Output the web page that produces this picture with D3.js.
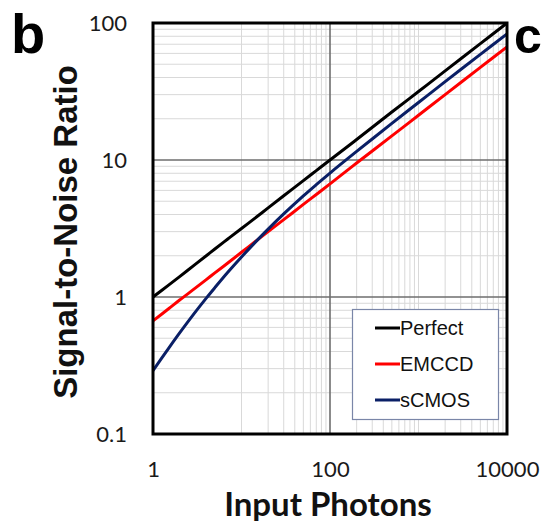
<!DOCTYPE html>
<html><head><meta charset="utf-8">
<script src="https://cdn.jsdelivr.net/npm/d3@7"></script>
<style>html,body{margin:0;padding:0;background:#fff;}svg{display:block;}</style>
</head><body>
<script>
// ---- data ----
const photons = [1, 1.5, 2, 3, 4, 5, 7, 10, 15, 20, 30, 50, 70, 100, 200, 500, 1000, 2000, 5000, 10000];
const perfect = [1, 1.22, 1.41, 1.73, 2, 2.24, 2.65, 3.16, 3.87, 4.47, 5.48, 7.07, 8.37, 10, 14.1, 22.4, 31.6, 44.7, 70.7, 100];
const emccd   = [0.67, 0.82, 0.95, 1.16, 1.34, 1.5, 1.77, 2.12, 2.6, 3.0, 3.67, 4.74, 5.6, 6.7, 9.5, 15.0, 21.2, 30.0, 47.4, 67];
const scmos   = [0.290, 0.422, 0.547, 0.776, 0.982, 1.17, 1.515, 1.96, 2.59, 3.13, 4.04, 5.47, 6.61, 8.03, 11.55, 18.5, 26.3, 37.3, 59.0, 83.3];
const seriesNames = ["Perfect", "EMCCD", "sCMOS"];
const seriesColors = ["#000000", "#ff0000", "#0a1f66"];
const xTicks = [1, 100, 10000];
const yTicks = [0.1, 1, 10, 100];
const xMajorGrid = [100];
const yMajorGrid = [1, 10];

const W = 542, H = 522;
const svg = d3.select("body").append("svg").attr("width", W).attr("height", H);

const x = d3.scaleLog().domain([1, 10000]).range([153, 507]);
const y = d3.scaleLog().domain([0.1, 100]).range([434, 23]);

// minor grid
const xMinor = [];
for (let k = 1; k <= 3; k++) for (let m = 1; m <= 9; m++) { const v = m * Math.pow(10, k); if (v < 10000 && !xMajorGrid.includes(v)) xMinor.push(v); }
const yMinor = [];
for (let k = -1; k <= 1; k++) for (let m = 2; m <= 9; m++) yMinor.push(m * Math.pow(10, k));

const g = svg.append("g");
g.selectAll("line.xm").data(xMinor).join("line")
  .attr("x1", d => x(d)).attr("x2", d => x(d)).attr("y1", y(100)).attr("y2", y(0.1))
  .attr("stroke", "#d9d9d9").attr("stroke-width", 1);
g.selectAll("line.ym").data(yMinor).join("line")
  .attr("y1", d => y(d)).attr("y2", d => y(d)).attr("x1", x(1)).attr("x2", x(10000))
  .attr("stroke", "#d9d9d9").attr("stroke-width", 1);
g.selectAll("line.xM").data(xMajorGrid).join("line")
  .attr("x1", d => x(d)).attr("x2", d => x(d)).attr("y1", y(100)).attr("y2", y(0.1))
  .attr("stroke", "#6e6e6e").attr("stroke-width", 1.6);
g.selectAll("line.yM").data(yMajorGrid).join("line")
  .attr("y1", d => y(d)).attr("y2", d => y(d)).attr("x1", x(1)).attr("x2", x(10000))
  .attr("stroke", "#6e6e6e").attr("stroke-width", 1.6);

// series
const allSeries = [perfect, emccd, scmos];
const line = d3.line().x(d => x(d[0])).y(d => y(d[1])).curve(d3.curveCatmullRom.alpha(0.5));
svg.append("clipPath").attr("id", "clp").append("rect")
  .attr("x", x(1)).attr("y", y(100)).attr("width", x(10000) - x(1)).attr("height", y(0.1) - y(100));
svg.append("g").attr("clip-path", "url(#clp)").selectAll("path").data(allSeries).join("path")
  .attr("d", s => line(photons.map((p, i) => [p, s[i]])))
  .attr("fill", "none").attr("stroke", (d, i) => seriesColors[i]).attr("stroke-width", 3);

// frame
svg.append("rect").attr("x", x(1)).attr("y", y(100)).attr("width", x(10000) - x(1)).attr("height", y(0.1) - y(100))
  .attr("fill", "none").attr("stroke", "#000").attr("stroke-width", 3);

// axes (labels only)
const xAxis = d3.axisBottom(x).tickValues(xTicks).tickFormat(d3.format("d")).tickSize(0).tickPadding(0);
const xa = svg.append("g").attr("transform", `translate(0,${y(0.1)})`).call(xAxis);
xa.select(".domain").remove();
xa.selectAll("text").attr("font-family", "Lato, sans-serif").attr("font-size", 22).attr("fill", "#1a1a1a")
  .attr("dy", null).attr("y", 43);

const yAxis = d3.axisLeft(y).tickValues(yTicks).tickFormat(d => d < 1 ? "0.1" : d3.format("d")(d)).tickSize(0).tickPadding(26);
const ya = svg.append("g").attr("transform", `translate(${x(1)},0)`).call(yAxis);
ya.select(".domain").remove();
ya.selectAll("text").attr("font-family", "Lato, sans-serif").attr("font-size", 22).attr("fill", "#1a1a1a");

// titles
svg.append("text").attr("x", 328).attr("y", 516).attr("text-anchor", "middle")
  .attr("font-family", "Lato, sans-serif").attr("font-weight", "bold").attr("font-size", 33).attr("fill", "#111")
  .text("Input Photons");
svg.append("text").attr("transform", "translate(77,232) rotate(-90)").attr("text-anchor", "middle")
  .attr("font-family", "'Liberation Sans', Arial, sans-serif").attr("font-weight", "bold").attr("font-size", 33).attr("fill", "#111")
  .text("Signal-to-Noise Ratio");
svg.append("text").attr("x", 11).attr("y", 53)
  .attr("font-family", "'Liberation Sans', Arial, sans-serif").attr("font-weight", "bold").attr("font-size", 56).attr("fill", "#000")
  .text("b");
svg.append("text").attr("x", 514).attr("y", 53)
  .attr("font-family", "'Liberation Sans', Arial, sans-serif").attr("font-weight", "bold").attr("font-size", 50).attr("fill", "#000")
  .text("c");

// legend
const lg = svg.append("g");
lg.append("rect").attr("x", 352.5).attr("y", 309.5).attr("width", 146).attr("height", 110)
  .attr("fill", "#fff").attr("stroke", "#7a86a8").attr("stroke-width", 1.2);
const ly = [328, 364, 400];
seriesNames.forEach((n, i) => {
  lg.append("line").attr("x1", 375).attr("x2", 400).attr("y1", ly[i]).attr("y2", ly[i])
    .attr("stroke", seriesColors[i]).attr("stroke-width", 3);
  lg.append("text").attr("x", 400).attr("y", ly[i] + 7)
    .attr("font-family", "'Liberation Sans', Arial, sans-serif").attr("font-size", 20).attr("fill", "#111").text(n);
});
</script>
</body></html>
